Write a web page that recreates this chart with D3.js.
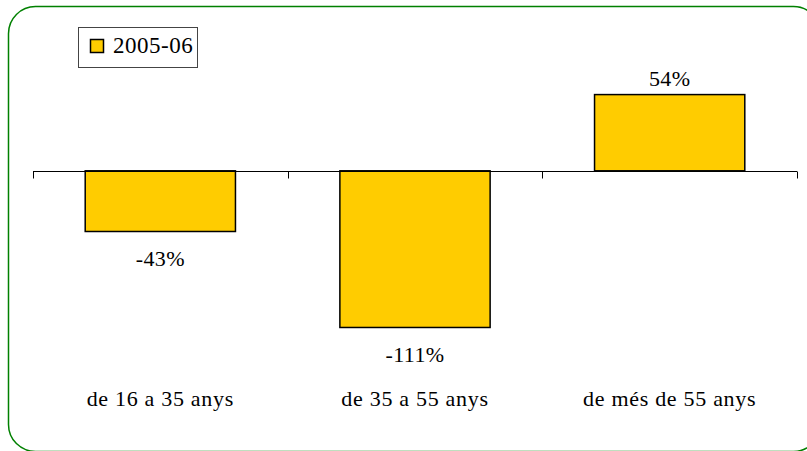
<!DOCTYPE html>
<html>
<head>
<meta charset="utf-8">
<script src="https://cdn.jsdelivr.net/npm/d3@7"></script>
<style>
html,body{margin:0;padding:0;background:#fff;}
svg{display:block;}
</style>
</head>
<body>
<svg id="chart" width="807" height="451"></svg>
<script>
const categories = ["de 16 a 35 anys", "de 35 a 55 anys", "de més de 55 anys"];
const values = [-43, -111, 54];
const valueLabels = ["-43%", "-111%", "54%"];
const seriesName = "2005-06";

const FONT = "'Liberation Serif', 'Times New Roman', Times, serif";
const svg = d3.select("#chart");

// outer rounded border
svg.append("rect")
  .attr("x", 8.5).attr("y", 6.5)
  .attr("width", 812).attr("height", 445)
  .attr("rx", 27).attr("ry", 27)
  .attr("fill", "#fff")
  .attr("stroke", "#008000").attr("stroke-width", 1.5);

const x = d3.scaleBand().domain(categories).range([33, 797])
  .paddingInner(0.41).paddingOuter(0.205);
const xEdge = d3.scaleBand().domain(categories).range([33, 797]).padding(0);
const y = d3.scaleLinear().domain([-130, 70]).range([354.3, 72]);

// bars
svg.selectAll("rect.bar").data(values).enter().append("rect")
  .attr("class", "bar")
  .attr("x", (d, i) => x(categories[i]))
  .attr("width", x.bandwidth())
  .attr("y", d => y(Math.max(0, d)))
  .attr("height", d => Math.abs(y(d) - y(0)))
  .attr("fill", "#FFCC00")
  .attr("stroke", "#000").attr("stroke-width", 1.5);

// zero axis line with boundary ticks
const y0 = Math.round(y(0)) + 0.5;
svg.append("line")
  .attr("x1", xEdge.range()[0]).attr("x2", xEdge.range()[1])
  .attr("y1", y0).attr("y2", y0)
  .attr("stroke", "#000").attr("stroke-width", 1);
const tickXs = categories.map(c => xEdge(c)).concat([xEdge.range()[1]]);
svg.selectAll("line.tick").data(tickXs).enter().append("line")
  .attr("class", "tick")
  .attr("x1", d => Math.round(d) + 0.5).attr("x2", d => Math.round(d) + 0.5)
  .attr("y1", y0).attr("y2", y0 + 7)
  .attr("stroke", "#000").attr("stroke-width", 1);

// value labels
svg.selectAll("text.val").data(values).enter().append("text")
  .attr("class", "val")
  .attr("x", (d, i) => x(categories[i]) + x.bandwidth() / 2)
  .attr("y", d => d < 0 ? y(d) + 35 : y(d) - 9)
  .attr("text-anchor", "middle")
  .attr("font-family", FONT)
  .attr("font-size", 22)
  .attr("letter-spacing", 0.4)
  .attr("fill", "#000")
  .text((d, i) => valueLabels[i]);

// category labels
svg.selectAll("text.cat").data(categories).enter().append("text")
  .attr("class", "cat")
  .attr("x", d => xEdge(d) + xEdge.bandwidth() / 2)
  .attr("y", 406)
  .attr("text-anchor", "middle")
  .attr("font-family", FONT)
  .attr("font-size", 22)
  .attr("letter-spacing", 0.7)
  .attr("fill", "#000")
  .text(d => d);

// legend
const lg = svg.append("g");
lg.append("rect").attr("x", 78.5).attr("y", 27.5).attr("width", 119).attr("height", 40)
  .attr("fill", "#fff").attr("stroke", "#444").attr("stroke-width", 1);
lg.append("rect").attr("x", 90.5).attr("y", 39.5).attr("width", 13).attr("height", 13)
  .attr("fill", "#FFCC00").attr("stroke", "#000").attr("stroke-width", 1.5);
lg.append("text").attr("x", 113).attr("y", 53)
  .attr("font-family", FONT).attr("font-size", 23).attr("letter-spacing", 0.5).attr("fill", "#000")
  .text(seriesName);
</script>
</body>
</html>
